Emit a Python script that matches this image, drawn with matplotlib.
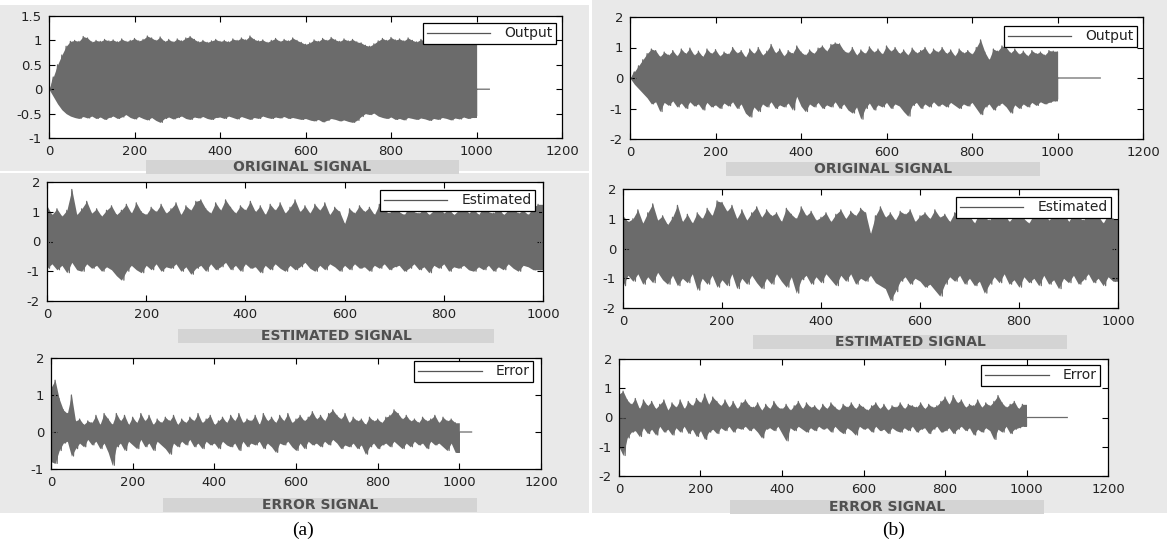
import matplotlib
matplotlib.use("Agg")
import matplotlib.pyplot as plt
from matplotlib.patches import Rectangle
from matplotlib.lines import Line2D

# ---------------- data ----------------
# envelope peaks of each dense signal, one value every 10 samples (0..990)
sample_pos = list(range(0, 1000, 10))

output_a_up = [0.0, 0.25, 0.5, 0.7, 0.88, 0.98, 1.0, 0.98, 1.08, 1.05,
               0.97, 1.0, 0.98, 1.02, 0.99, 1.01, 0.97, 1.03, 0.98, 1.0,
               1.04, 0.99, 1.02, 1.09, 1.05, 1.0, 1.07, 0.98, 1.02, 0.97,
               1.03, 0.99, 1.05, 1.08, 1.02, 0.97, 1.0, 0.96, 0.99, 1.02,
               0.98, 1.0, 0.97, 1.03, 1.0, 1.05, 1.01, 1.09, 1.02, 0.99,
               1.01, 0.96, 1.0, 1.04, 0.98, 1.02, 0.99, 1.05, 1.0, 0.96,
               0.92, 0.95, 1.01, 0.98, 1.04, 1.0, 1.06, 1.01, 0.98, 1.03,
               0.99, 1.02, 0.97, 0.95, 0.9, 0.88, 0.93, 0.99, 1.04, 1.0,
               1.06, 1.01, 1.03, 0.99, 1.05, 1.0, 0.97, 1.02, 0.98, 1.01,
               1.03, 0.99, 1.02, 0.97, 1.0, 0.98, 1.01, 0.99, 1.02, 1.0]
output_a_low = [0.0, -0.15, -0.3, -0.42, -0.5, -0.55, -0.58, -0.6, -0.56, -0.59,
                -0.55, -0.6, -0.57, -0.62, -0.58, -0.55, -0.6, -0.57, -0.52, -0.58,
                -0.61, -0.56, -0.6, -0.63, -0.58, -0.64, -0.68, -0.6, -0.57, -0.61,
                -0.58, -0.55, -0.6, -0.62, -0.57, -0.59, -0.56, -0.6, -0.62, -0.58,
                -0.57, -0.6, -0.55, -0.58, -0.61, -0.56, -0.59, -0.62, -0.58, -0.6,
                -0.55, -0.58, -0.6, -0.57, -0.59, -0.56, -0.6, -0.58, -0.6, -0.62,
                -0.6, -0.63, -0.65, -0.62, -0.67, -0.64, -0.6, -0.62, -0.65, -0.63,
                -0.66, -0.68, -0.64, -0.56, -0.5, -0.52, -0.49, -0.55, -0.58, -0.6,
                -0.57, -0.62, -0.6, -0.63, -0.58, -0.6, -0.62, -0.59, -0.61, -0.64,
                -0.6, -0.62, -0.58, -0.6, -0.63, -0.59, -0.61, -0.57, -0.6, -0.58]
output_a_tail_x = [1000, 1000, 1000, 1000, 1030]
output_a_tail_y = [1.0, 0.3, -0.55, 0.0, 0.0]

output_b_up = [0.0, 0.2, 0.4, 0.6, 0.8, 0.95, 0.9, 0.7, 0.85, 0.75,
               0.9, 0.72, 0.95, 0.8, 0.98, 0.75, 0.88, 0.7, 0.95, 0.8,
               0.93, 0.72, 0.85, 0.78, 1.0, 0.82, 0.9, 0.68, 0.95, 0.8,
               1.0, 0.75, 0.88, 1.1, 0.82, 0.95, 0.72, 0.9, 0.8, 1.05,
               0.85, 0.75, 0.92, 0.8, 0.98, 1.05, 0.88, 1.1, 1.15, 1.12,
               0.9, 0.82, 1.0, 0.75, 0.92, 0.8, 1.02, 0.85, 0.95, 0.78,
               1.05, 0.88, 1.0, 0.8, 0.92, 0.75, 0.98, 0.82, 0.9, 1.0,
               0.78, 0.95, 0.85, 1.0, 0.8, 0.92, 0.72, 0.95, 0.82, 0.9,
               0.78, 1.0, 1.25, 0.85, 0.6, 0.95, 0.88, 1.05, 1.0, 0.82,
               0.95, 0.78, 0.88, 0.72, 0.9, 0.8, 0.85, 0.75, 0.9, 0.88]
output_b_low = [0.0, -0.2, -0.35, -0.5, -0.65, -0.85, -0.78, -1.1, -0.8, -0.9,
                -0.75, -0.95, -0.82, -1.0, -0.78, -0.92, -0.85, -1.05, -0.8, -0.95,
                -0.88, -1.0, -0.82, -0.92, -0.78, -1.0, -0.85, -1.15, -1.28, -0.95,
                -1.1, -0.85, -0.95, -0.78, -1.0, -0.88, -0.95, -0.82, -1.05, -0.6,
                -0.92, -1.1, -0.85, -0.95, -0.8, -1.0, -0.88, -0.95, -0.78, -1.0,
                -0.85, -1.05, -1.15, -0.95, -1.35, -1.0, -0.82, -1.05, -0.88, -0.95,
                -0.8, -1.0, -0.85, -0.92, -1.1, -1.25, -0.9, -0.8, -1.0, -0.85,
                -0.95, -0.78, -0.92, -0.85, -0.95, -0.8, -0.9, -1.0, -0.85, -0.92,
                -0.8, -1.0, -1.2, -0.95, -0.85, -1.05, -0.9, -0.82, -0.95, -1.15,
                -0.88, -1.0, -0.85, -0.95, -0.8, -0.9, -0.78, -0.85, -0.8, -0.75]
output_b_tail_x = [1000, 1000, 1000, 1100]
output_b_tail_y = [0.85, -0.7, 0.0, 0.0]

estimated_a_up = [1.2, 0.9, 1.1, 0.85, 1.05, 1.75, 0.9, 1.1, 1.35, 0.95,
                  1.1, 0.85, 1.05, 1.2, 0.9, 1.05, 1.25, 0.95, 1.3, 1.0,
                  0.9, 1.15, 1.0, 1.25, 0.95, 1.1, 1.3, 0.9, 1.2, 1.05,
                  1.35, 1.4, 1.1, 0.95, 1.3, 1.05, 1.4, 1.15, 0.95, 1.2,
                  1.05, 1.35, 1.0, 1.2, 0.9, 1.25, 1.05, 1.3, 0.95, 1.15,
                  1.4, 1.0, 1.2, 0.95, 1.25, 1.05, 1.3, 0.9, 1.15, 1.0,
                  0.6, 1.1, 0.95, 1.2, 1.0, 1.15, 0.9, 1.25, 1.05, 0.95,
                  1.2, 1.0, 0.9, 1.15, 1.0, 0.95, 1.1, 0.9, 1.05, 1.2,
                  0.95, 1.1, 0.9, 1.05, 1.2, 0.95, 1.1, 0.9, 1.15, 1.0,
                  0.95, 1.15, 0.9, 1.05, 1.1, 0.95, 1.05, 0.9, 1.15, 1.25]
estimated_a_low = [-0.9, -0.75, -0.95, -0.8, -1.05, -0.7, -0.95, -1.0, -0.75, -0.9,
                   -0.8, -1.0, -0.85, -0.95, -1.15, -1.3, -1.0, -0.8, -0.95, -1.05,
                   -0.8, -0.95, -0.75, -1.0, -0.85, -0.9, -0.75, -1.0, -0.85, -1.1,
                   -0.9, -0.8, -1.0, -0.75, -0.95, -0.85, -0.7, -0.95, -0.8, -1.0,
                   -0.75, -0.9, -0.85, -1.05, -0.8, -0.95, -0.75, -0.9, -1.0, -0.8,
                   -0.95, -0.85, -0.7, -0.9, -1.0, -0.8, -0.95, -0.75, -0.85, -1.0,
                   -0.8, -0.95, -0.75, -0.9, -0.85, -1.0, -0.8, -0.9, -0.75, -0.95,
                   -0.85, -0.8, -1.0, -0.9, -0.75, -0.95, -0.85, -1.05, -0.8, -0.9,
                   -0.75, -1.0, -0.85, -0.9, -0.8, -0.95, -1.0, -0.85, -0.95, -0.8,
                   -1.0, -0.85, -0.95, -0.75, -0.9, -1.0, -0.8, -0.85, -0.95, -0.95]
estimated_a_tail_x = [1000, 1000]
estimated_a_tail_y = [1.2, -0.9]

estimated_b_up = [1.1, 0.9, 1.0, 1.3, 0.85, 1.2, 1.5, 0.95, 1.1, 0.8,
                  1.05, 1.45, 0.9, 1.15, 0.85, 1.2, 1.0, 1.35, 1.1, 1.6,
                  1.55, 1.25, 1.45, 1.0, 1.3, 0.95, 1.2, 1.4, 1.05, 1.3,
                  1.1, 1.2, 0.9, 1.35, 1.15, 1.0, 1.4, 1.1, 1.25, 0.95,
                  1.05, 1.2, 0.9, 1.15, 1.3, 1.0, 1.25, 1.1, 1.35, 1.2,
                  0.5, 1.1, 1.4, 1.05, 1.2, 0.95, 1.25, 1.15, 1.3, 0.9,
                  1.1, 1.2, 1.0, 1.3, 1.05, 1.15, 0.9, 1.2, 1.35, 1.0,
                  1.1, 0.85, 1.2, 1.05, 0.95, 1.15, 1.0, 1.2, 0.9, 1.1,
                  1.35, 1.0, 0.85, 1.15, 1.05, 1.25, 0.95, 1.1, 1.0, 1.3,
                  0.9, 1.15, 1.05, 0.95, 1.2, 1.0, 1.1, 0.85, 1.15, 1.0]
estimated_b_low = [-1.25, -0.9, -1.1, -0.85, -1.2, -0.95, -1.15, -0.8, -1.05, -1.2,
                   -0.9, -1.25, -1.0, -1.15, -0.85, -1.4, -1.0, -1.2, -0.9, -1.3,
                   -1.05, -1.25, -0.85, -1.35, -1.0, -1.2, -0.9, -1.15, -1.35, -1.0,
                   -1.2, -0.85, -1.1, -1.3, -0.95, -1.5, -1.05, -0.9, -1.2, -0.95,
                   -1.15, -0.85, -1.05, -1.25, -0.9, -1.1, -0.85, -1.2, -1.0, -1.1,
                   -0.9, -1.15, -1.25, -1.35, -1.75, -1.45, -1.1, -0.95, -1.2, -1.0,
                   -1.1, -1.3, -1.2, -1.4, -1.6, -1.2, -0.95, -1.1, -0.9, -1.2,
                   -1.0, -1.25, -1.1, -1.5, -1.2, -0.95, -1.15, -0.85, -1.2, -1.05,
                   -1.3, -0.95, -1.15, -1.0, -1.25, -0.9, -1.2, -1.05, -1.35, -1.0,
                   -1.15, -0.9, -1.2, -1.05, -0.85, -1.15, -1.0, -1.25, -0.95, -1.1]
estimated_b_tail_x = [1000, 1000]
estimated_b_tail_y = [0.9, -1.0]

error_a_up = [1.2, 1.4, 0.9, 0.6, 0.5, 1.0, 0.3, 0.35, 0.2, 0.3,
              0.25, 0.45, 0.2, 0.5, 0.35, 0.2, 0.5, 0.3, 0.45, 0.2,
              0.4, 0.25, 0.5, 0.3, 0.45, 0.2, 0.35, 0.25, 0.4, 0.3,
              0.45, 0.2, 0.35, 0.25, 0.4, 0.3, 0.5, 0.25, 0.35, 0.45,
              0.2, 0.3, 0.4, 0.25, 0.45, 0.3, 0.5, 0.25, 0.35, 0.3,
              0.45, 0.2, 0.5, 0.3, 0.4, 0.25, 0.45, 0.3, 0.5, 0.25,
              0.35, 0.45, 0.3, 0.4, 0.55, 0.35, 0.45, 0.3, 0.5, 0.6,
              0.45, 0.35, 0.5, 0.25, 0.4, 0.3, 0.35, 0.2, 0.4, 0.3,
              0.35, 0.25, 0.4, 0.45, 0.6, 0.5, 0.35, 0.45, 0.3, 0.35,
              0.25, 0.4, 0.3, 0.35, 0.45, 0.25, 0.4, 0.3, 0.35, 0.25]
error_a_low = [-0.8, -0.85, -0.5, -0.3, -0.25, -0.65, -0.45, -0.3, -0.4, -0.2,
               -0.35, -0.25, -0.45, -0.3, -0.55, -0.9, -0.4, -0.3, -0.5, -0.25,
               -0.35, -0.45, -0.2, -0.4, -0.3, -0.5, -0.25, -0.35, -0.45, -0.6,
               -0.3, -0.4, -0.25, -0.35, -0.2, -0.4, -0.3, -0.45, -0.25, -0.35,
               -0.3, -0.45, -0.25, -0.35, -0.4, -0.3, -0.5, -0.25, -0.4, -0.3,
               -0.35, -0.25, -0.45, -0.3, -0.4, -0.55, -0.3, -0.35, -0.25, -0.4,
               -0.5, -0.3, -0.45, -0.25, -0.35, -0.3, -0.4, -0.25, -0.35, -0.2,
               -0.3, -0.45, -0.35, -0.4, -0.3, -0.45, -0.35, -0.6, -0.4, -0.3,
               -0.45, -0.35, -0.3, -0.4, -0.25, -0.35, -0.45, -0.3, -0.4, -0.25,
               -0.35, -0.3, -0.45, -0.25, -0.35, -0.3, -0.4, -0.5, -0.3, -0.55]
error_a_tail_x = [1000, 1000, 1030]
error_a_tail_y = [-0.55, 0.0, 0.0]

error_b_up = [0.8, 0.9, 0.6, 0.45, 0.65, 0.3, 0.6, 0.4, 0.55, 0.3,
              0.45, 0.6, 0.25, 0.5, 0.35, 0.6, 0.3, 0.55, 0.4, 0.65,
              0.5, 0.8, 0.45, 0.7, 0.55, 0.4, 0.6, 0.35, 0.55, 0.3,
              0.5, 0.6, 0.4, 0.35, 0.5, 0.25, 0.45, 0.3, 0.55, 0.35,
              0.3, 0.45, 0.25, 0.4, 0.55, 0.3, 0.5, 0.35, 0.4, 0.25,
              0.45, 0.3, 0.5, 0.35, 0.25, 0.45, 0.35, 0.5, 0.3, 0.45,
              0.35, 0.25, 0.4, 0.5, 0.3, 0.45, 0.25, 0.4, 0.35, 0.5,
              0.3, 0.45, 0.4, 0.35, 0.5, 0.3, 0.45, 0.35, 0.4, 0.55,
              0.7, 0.45, 0.75, 0.5, 0.6, 0.35, 0.45, 0.4, 0.6, 0.35,
              0.5, 0.4, 0.55, 0.75, 0.5, 0.35, 0.45, 0.55, 0.3, 0.45]
error_b_low = [-1.0, -1.3, -0.7, -0.5, -0.45, -0.65, -0.35, -0.55, -0.4, -0.6,
               -0.3, -0.5, -0.4, -0.6, -0.35, -0.5, -0.3, -0.55, -0.4, -0.65,
               -0.45, -0.75, -0.5, -0.4, -0.55, -0.35, -0.45, -0.3, -0.5, -0.35,
               -0.4, -0.3, -0.45, -0.35, -0.5, -0.7, -0.4, -0.35, -0.45, -0.3,
               -0.55, -0.8, -0.35, -0.45, -0.3, -0.4, -0.5, -0.35, -0.45, -0.3,
               -0.4, -0.35, -0.5, -0.3, -0.45, -0.55, -0.35, -0.45, -0.6, -0.3,
               -0.4, -0.35, -0.5, -0.3, -0.45, -0.4, -0.55, -0.35, -0.45, -0.5,
               -0.35, -0.45, -0.3, -0.5, -0.4, -0.35, -0.55, -0.4, -0.3, -0.5,
               -0.45, -0.35, -0.55, -0.4, -0.3, -0.45, -0.35, -0.6, -0.4, -0.5,
               -0.35, -0.45, -0.75, -0.4, -0.5, -0.3, -0.55, -0.4, -0.35, -0.3]
error_b_tail_x = [1000, 1000, 1100]
error_b_tail_y = [-0.3, 0.0, 0.0]

legend_labels = ["Output", "Estimated", "Error"]
panel_titles = ["ORIGINAL SIGNAL", "ESTIMATED SIGNAL", "ERROR SIGNAL"]
panel_tags = ["(a)", "(b)"]

# ---------------- drawing ----------------
W, H = 1167, 544
fig = plt.figure(figsize=(W / 100, H / 100), dpi=100)
fig.patch.set_facecolor("white")

SIG = "#6b6b6b"
BG = "#e9e9e9"


def fx(x):
    return x / W


def fy(y):
    return 1 - y / H


def rect_px(x0, y0, x1, y1, color, z=0):
    fig.add_artist(Rectangle((fx(x0), fy(y1)), fx(x1) - fx(x0), fy(y0) - fy(y1),
                             transform=fig.transFigure, facecolor=color,
                             edgecolor="none", zorder=z))


# gray panel backgrounds
rect_px(0, 5, 589, 513, BG, z=-10)
rect_px(592, 0, 1167, 513, BG, z=-10)
rect_px(0, 171, 589, 173, "white", z=-9)


def make_axes(l, t, r, b, xmax, ylim, yticks, yticklabels, up, low, tx, ty,
              label, leg_box):
    ax = fig.add_axes([l / W, 1 - b / H, (r - l) / W, (b - t) / H])
    ax.set_facecolor("white")
    # dense oscillation: body between its peak envelopes + zig-zag strokes
    ax.fill_between(sample_pos + [1000], low + [low[-1]], up + [up[-1]],
                    color=SIG, lw=0)
    zx, zy = [], []
    for p, u, lo in zip(sample_pos, up, low):
        zx += [p, p + 5]
        zy += [u, lo]
    ax.plot(zx + tx, zy + ty, color=SIG, lw=0.9)
    ax.set_xlim(0, xmax)
    ax.set_ylim(*ylim)
    ax.set_xticks(list(range(0, xmax + 1, 200)))
    ax.set_yticks(yticks)
    ax.set_yticklabels(yticklabels)
    ax.tick_params(direction="in", length=4, width=0.8, top=True, right=True,
                   labelsize=9.5, labelcolor="#222222", pad=5)
    for s in ax.spines.values():
        s.set_linewidth(0.9)
        s.set_color("black")
    proxy = Line2D([], [], color="#555555", lw=0.9)
    lx0, ly0, lx1, ly1 = leg_box
    leg = ax.legend([proxy], [label], loc="upper right",
                    bbox_to_anchor=(fx(lx1), fy(ly0)), bbox_transform=fig.transFigure,
                    fancybox=False, frameon=True, edgecolor="black", framealpha=1,
                    handlelength=4.6, handletextpad=1.0, borderpad=0.25,
                    borderaxespad=0, fontsize=10)
    leg.get_frame().set_linewidth(0.9)
    for t_ in leg.get_texts():
        t_.set_color("#222222")
    return ax


def title_box(x0, x1, yc, text):
    rect_px(x0, yc - 7, x1, yc + 7, "#d4d4d4", z=-5)
    fig.text(fx((x0 + x1) / 2), fy(yc), text, ha="center", va="center",
             fontsize=10, fontweight="bold", color="#505050")


# (a) column
make_axes(49, 16, 562, 138, 1200, (-1, 1.5), [-1, -0.5, 0, 0.5, 1, 1.5],
          ["-1", "-0.5", "0", "0.5", "1", "1.5"],
          output_a_up, output_a_low, output_a_tail_x, output_a_tail_y,
          legend_labels[0], (403, 23, 556, 43))
title_box(146, 459, 167, panel_titles[0])

make_axes(47, 182, 543, 301, 1000, (-2, 2), [-2, -1, 0, 1, 2],
          ["-2", "-1", "0", "1", "2"],
          estimated_a_up, estimated_a_low, estimated_a_tail_x, estimated_a_tail_y,
          legend_labels[1], (352, 190, 535, 209))
title_box(178, 494, 336, panel_titles[1])

make_axes(51, 358, 541, 469, 1200, (-1, 2), [-1, 0, 1, 2],
          ["-1", "0", "1", "2"],
          error_a_up, error_a_low, error_a_tail_x, error_a_tail_y,
          legend_labels[2], (398, 361, 533, 379))
title_box(163, 477, 505, panel_titles[2])

# (b) column
make_axes(630, 17, 1143, 139, 1200, (-2, 2), [-2, -1, 0, 1, 2],
          ["-2", "-1", "0", "1", "2"],
          output_b_up, output_b_low, output_b_tail_x, output_b_tail_y,
          legend_labels[0], (984, 26, 1137, 46))
title_box(726, 1040, 169, panel_titles[0])

make_axes(623, 189, 1118, 308, 1000, (-2, 2), [-2, -1, 0, 1, 2],
          ["-2", "-1", "0", "1", "2"],
          estimated_b_up, estimated_b_low, estimated_b_tail_x, estimated_b_tail_y,
          legend_labels[1], (927, 197, 1111, 216))
title_box(753, 1067, 342, panel_titles[1])

make_axes(619, 359, 1108, 476, 1200, (-2, 2), [-2, -1, 0, 1, 2],
          ["-2", "-1", "0", "1", "2"],
          error_b_up, error_b_low, error_b_tail_x, error_b_tail_y,
          legend_labels[2], (965, 365, 1100, 386))
title_box(730, 1044, 507, panel_titles[2])

fig.text(fx(303), fy(530), panel_tags[0], ha="center", va="center",
         fontsize=14, family="Liberation Serif", color="black")
fig.text(fx(894), fy(530), panel_tags[1], ha="center", va="center",
         fontsize=14, family="Liberation Serif", color="black")

fig.savefig("out.png", dpi=100, facecolor="white")
